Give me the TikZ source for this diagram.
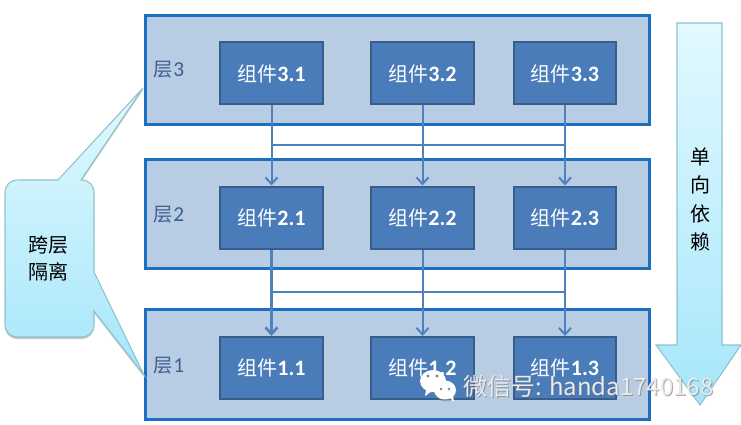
\documentclass[tikz,border=0pt]{standalone}
\usepackage{fontspec}
\setmainfont{Noto Sans CJK SC}
\newfontfamily\latinpart{Carlito}
\usetikzlibrary{arrows.meta,shadows}
\definecolor{layerfill}{HTML}{B8CCE4}
\definecolor{layerline}{HTML}{1A6FC0}
\definecolor{compfill}{HTML}{4A7CB9}
\definecolor{compline}{HTML}{385D8A}
\definecolor{wireblue}{HTML}{4F81BD}
\definecolor{labelblue}{HTML}{3F5F90}
\definecolor{calloutline}{HTML}{8CC3CC}
\definecolor{aqualight}{HTML}{E2F9FF}
\definecolor{aquadark}{HTML}{A6E6FA}
\newcommand{\compname}[1]{组件{\latinpart\bfseries\fontsize{16.5}{16.5}\selectfont #1}}
\newcommand{\layername}[1]{层{\latinpart\fontsize{16}{16}\selectfont #1}}
\tikzset{
  layerbox/.style={draw=layerline,fill=layerfill,line width=2.2pt,minimum width=378pt,minimum height=82pt,inner sep=0pt},
  compbox/.style={draw=compline,fill=compfill,line width=1.5pt,minimum width=77pt,minimum height=46.5pt,inner sep=0pt,text=white,font=\fontsize{15}{15}\selectfont},
  layerlabel/.style={text=labelblue,font=\fontsize{14.5}{14.5}\selectfont,inner sep=0pt},
  wire/.style={draw=wireblue,line width=1.5pt},
  wirearrow/.style={wire,-{Straight Barb[length=5pt,width=9pt]}},
  aquashape/.style={draw=calloutline,line width=.8pt,top color=aqualight,bottom color=aquadark},
  blacktext/.style={text=black,font=\fontsize{15}{21.4}\selectfont,align=center,inner sep=0pt}
}
\begin{document}
\begin{tikzpicture}[x=.75pt,y=-.75pt]
\useasboundingbox (0,0) rectangle (741,424);
\node[layerbox] (layer3) at (397.5,70) {};
\node[layerbox] (layer2) at (397.5,214) {};
\node[layerbox] (layer1) at (397.5,364.5) {};
\node[layerlabel] (name3) at (169,70) {\layername{3}};
\node[layerlabel] (name2) at (169,215) {\layername{2}};
\node[layerlabel] (name1) at (169,366) {\layername{1}};
\node[compbox] (c31) at (271.5,73.5) {\compname{3.1}};
\node[compbox] (c32) at (422.5,73.5) {\compname{3.2}};
\node[compbox] (c33) at (565,73.5) {\compname{3.3}};
\node[compbox] (c21) at (271.5,217.5) {\compname{2.1}};
\node[compbox] (c22) at (422.5,217.5) {\compname{2.2}};
\node[compbox] (c23) at (565,217.5) {\compname{2.3}};
\node[compbox] (c11) at (271.5,368) {\compname{1.1}};
\node[compbox] (c12) at (422.5,368) {\compname{1.2}};
\node[compbox] (c13) at (565,368) {\compname{1.3}};
\coordinate (bar3a) at (271.5,145);
\coordinate (bar3b) at (565,145);
\coordinate (bar2a) at (271.5,292);
\coordinate (bar2b) at (565,292);
\draw[wirearrow] (c31)--(c21);
\draw[wirearrow] (c32)--(c22);
\draw[wirearrow] (c33)--(c23);
\draw[wirearrow,line width=2pt] (c21)--(c11);
\draw[wirearrow] (c22)--(c12);
\draw[wirearrow] (c23)--(c13);
\draw[wire] (bar3a)--(bar3b);
\draw[wire] (bar2a)--(bar2b);
\draw[aquashape,drop shadow={shadow xshift=0pt,shadow yshift=-1.5pt,opacity=.45}] (58,180)--(143,88)--(81,180) .. controls (89,180) and (94,185) .. (94,193)--(94,272)--(144,375)--(94,311)--(94,324) .. controls (94,332) and (89,337) .. (81,337)--(18,337) .. controls (10,337) and (5,332) .. (5,324)--(5,193) .. controls (5,185) and (10,180) .. (18,180)--cycle;
\node[blacktext,font=\fontsize{15}{20.2}\selectfont] (crossnote) at (48,258.5) {跨层\\隔离};
\draw[aquashape] (677,23)--(722,23)--(722,345)--(741,345)--(700,405)--(656,345)--(677,345)--cycle;
\node[blacktext] (downnote) at (700,199.5) {单\\向\\依\\赖};
\fill[gray,opacity=.55] (434,383) ellipse (13 and 11);
\fill[white] (433,381) ellipse (13 and 11);
\fill[white] (426,390)--(425,396)--(432,391)--cycle;
\fill[gray,opacity=.55] (446,392) ellipse (11 and 9.5);
\fill[white] (445,390) ellipse (11 and 9.5);
\fill[white] (449,397)--(454,402)--(453,395)--cycle;
\fill[gray] (428,376) circle (1.6);
\fill[gray] (437,376) circle (1.6);
\fill[gray] (441,389) circle (1.4);
\fill[gray] (449,389) circle (1.4);
\node[anchor=west,inner sep=0pt,text=gray!80!black,opacity=.55,font=\fontsize{18}{18}\selectfont] (markshade) at (464,387) {微信号: handa1740168};
\node[anchor=west,inner sep=0pt,text=white!92!black,font=\fontsize{18}{18}\selectfont] (marktext) at (463,386) {微信号: handa1740168};
\end{tikzpicture}
\end{document}
